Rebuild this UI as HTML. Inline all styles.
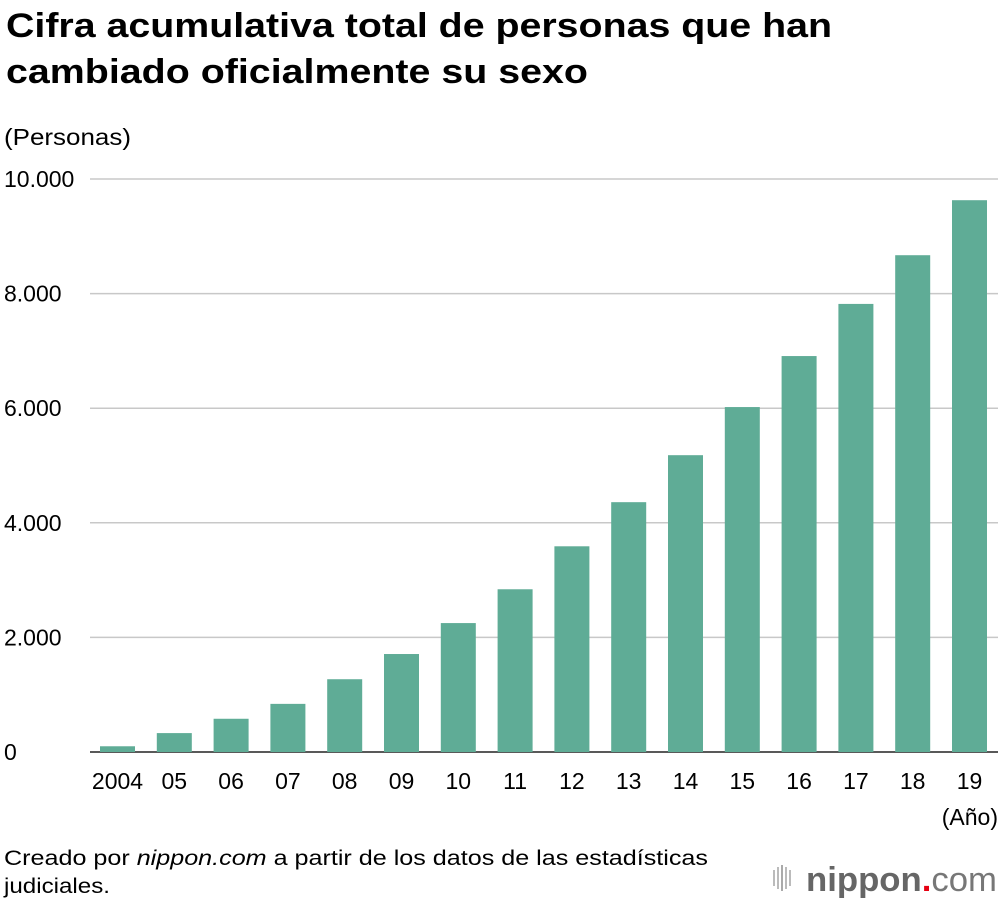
<!DOCTYPE html>
<html><head><meta charset="utf-8"><style>
body{margin:0;width:1000px;height:902px;background:#fff;font-family:"Liberation Sans",sans-serif;color:#111;overflow:hidden}
</style></head><body>
<svg id="c" width="1000" height="902" xmlns="http://www.w3.org/2000/svg">
<text x="6" y="37" font-size="34" font-weight="bold" textLength="826" lengthAdjust="spacingAndGlyphs">Cifra acumulativa total de personas que han</text>
<text x="6" y="83" font-size="34" font-weight="bold" textLength="582" lengthAdjust="spacingAndGlyphs">cambiado oficialmente su sexo</text>
<text x="4" y="145" font-size="23" textLength="127" lengthAdjust="spacingAndGlyphs">(Personas)</text>
<text x="998" y="825" font-size="23" text-anchor="end">(Año)</text>
<text x="4" y="865" font-size="21" textLength="704" lengthAdjust="spacingAndGlyphs">Creado por <tspan font-style="italic">nippon.com</tspan> a partir de los datos de las estadísticas</text>
<text x="4" y="893" font-size="21" textLength="106" lengthAdjust="spacingAndGlyphs">judiciales.</text>
<g>
<rect x="773" y="870" width="2" height="16" fill="#bbb"/><rect x="777" y="867" width="2" height="22" fill="#bbb"/><rect x="781" y="865" width="2" height="26" fill="#aaa"/><rect x="785" y="867" width="2" height="22" fill="#bbb"/><rect x="789" y="870" width="2" height="16" fill="#bbb"/>
<text x="806" y="891" font-size="34" font-weight="bold" fill="#666" textLength="191" lengthAdjust="spacingAndGlyphs">nippon<tspan fill="#e60012">.</tspan><tspan font-weight="normal" fill="#777">com</tspan></text>
</g>
<g id="grid"></g><g id="bars"></g><g id="labels"></g>
</svg>
<script>
const years=["2004","05","06","07","08","09","10","11","12","13","14","15","16","17","18","19"];
const values=[100,330,580,840,1270,1710,2250,2840,3590,4360,5180,6020,6910,7820,8670,9630];
const yTicks=[0,2000,4000,6000,8000,10000];
const yTickLabels=["0","2.000","4.000","6.000","8.000","10.000"];
const NS="http://www.w3.org/2000/svg";
const y0=752,yTop=179,xStart=100,step=56.8,bw=35;
function y(v){return y0-(v/10000)*(y0-yTop);}
function x(i){return xStart+i*step;}
function mk(t,a,p){const e=document.createElementNS(NS,t);for(const k in a)e.setAttribute(k,a[k]);p.appendChild(e);return e;}
const g=document.getElementById('grid'),b=document.getElementById('bars'),l=document.getElementById('labels');
yTicks.forEach((v,i)=>{
 const ln=mk('line',{x1:90,x2:998,y1:y(v),y2:y(v),stroke:v===0?'#222':'#c8c8c8','stroke-width':1.5},g);
 
 
 const t=mk('text',{x:4,y:y(v)+8,'font-size':23},l);t.textContent=yTickLabels[i];
 
 
});
years.forEach((yr,i)=>{
 const r=mk('rect',{x:x(i),y:y(values[i]),width:bw,height:y0-y(values[i]),fill:'#5fac96'},b);
 
 
 const t=mk('text',{x:x(i)+bw/2,y:789,'font-size':23,'text-anchor':'middle'},l);t.textContent=yr;
 
 
});
</script>
</body></html>
